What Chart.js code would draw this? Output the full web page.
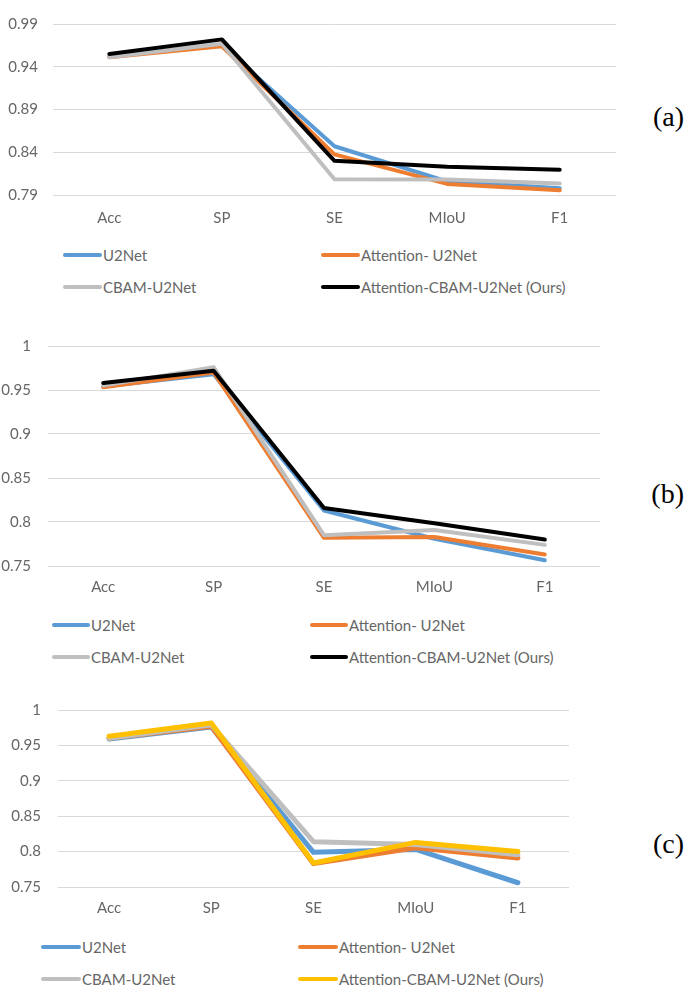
<!DOCTYPE html>
<html>
<head>
<meta charset="utf-8">
<script src="https://cdn.jsdelivr.net/npm/chart.js@4.4.1/dist/chart.umd.min.js"></script>
<style>
  html, body { margin: 0; padding: 0; background: #fff; }
  #page { position: relative; width: 685px; height: 988px; overflow: hidden; }
  canvas { position: absolute; left: 0; }
  .legend-item { position: absolute; display: flex; align-items: center; font-family: Lato, "Open Sans", sans-serif; font-size: 15px; color: #666; white-space: nowrap; }
  .legend-item span.swatch { display: inline-block; height: 4px; border-radius: 2px; margin-right: 1px; }
  .tag { position: absolute; right: 1px; font-family: "Liberation Serif", "DejaVu Serif", serif; font-size: 28px; color: #000; line-height: 1; }
</style>
</head>
<body>
<div id="page">
  <canvas id="chartA" width="640" height="240"></canvas>
  <canvas id="chartB" width="640" height="290"></canvas>
  <canvas id="chartC" width="640" height="250"></canvas>
</div>
<script>
// categories and series names
const categories = ['Acc', 'SP', 'SE', 'MIoU', 'F1'];
const seriesNames = ['U2Net', 'Attention- U2Net', 'CBAM-U2Net', 'Attention-CBAM-U2Net (Ours)'];

// (a)
const a_u2net = [0.952, 0.965, 0.847, 0.806, 0.798];
const a_attention = [0.951, 0.964, 0.8375, 0.803, 0.7955];
const a_cbam = [0.951, 0.967, 0.8085, 0.808, 0.8035];
const a_ours = [0.955, 0.972, 0.830, 0.823, 0.8195];
const a_ticks = [0.79, 0.84, 0.89, 0.94, 0.99];

// (b)
const b_u2net = [0.954, 0.968, 0.813, 0.781, 0.7565];
const b_attention = [0.953, 0.970, 0.782, 0.783, 0.763];
const b_cbam = [0.955, 0.976, 0.785, 0.791, 0.774];
const b_ours = [0.958, 0.972, 0.816, 0.7985, 0.780];
const b_ticks = [0.75, 0.8, 0.85, 0.9, 0.95, 1];

// (c)
const c_u2net = [0.959, 0.976, 0.799, 0.803, 0.756];
const c_attention = [0.960, 0.977, 0.783, 0.8055, 0.791];
const c_cbam = [0.960, 0.979, 0.814, 0.810, 0.7955];
const c_ours = [0.963, 0.9815, 0.784, 0.813, 0.800];
const c_ticks = [0.75, 0.8, 0.85, 0.9, 0.95, 1];

const colorsBlack = ['#5B9BD5', '#ED7D31', '#BFBFBF', '#000000'];
const colorsGold = ['#5B9BD5', '#ED7D31', '#BFBFBF', '#FFC000'];

// layout of each panel (page pixels)
const panels = [
  { id: 'chartA', tag: '(a)', tagY: 118, top: 0, height: 240, area: { left: 53, right: 616, top: 8, bottom: 195 },
    series: [a_u2net, a_attention, a_cbam, a_ours], colors: colorsBlack, ticks: a_ticks, fmt: v => v.toFixed(2),
    yPad: 15, xPad: 14, lw: 4, legend: { rows: [255, 287], cols: [63, 321], sw: 39 } },
  { id: 'chartB', tag: '(b)', tagY: 495, top: 320, height: 290, area: { left: 48, right: 600, top: 335, bottom: 566 },
    series: [b_u2net, b_attention, b_cbam, b_ours], colors: colorsBlack, ticks: b_ticks, fmt: v => String(v),
    yPad: 17, xPad: 12, lw: 4, legend: { rows: [625, 657], cols: [52, 310], sw: 38 } },
  { id: 'chartC', tag: '(c)', tagY: 845, top: 684, height: 250, area: { left: 58, right: 569, top: 699, bottom: 887 },
    series: [c_u2net, c_attention, c_cbam, c_ours], colors: colorsGold, ticks: c_ticks, fmt: v => String(v),
    yPad: 17, xPad: 12, lw: 5, legend: { rows: [947, 979], cols: [41, 298], sw: 40 } }
];

const page = document.getElementById('page');

panels.forEach(p => {
  const canvas = document.getElementById(p.id);
  canvas.style.top = p.top + 'px';
  canvas.style.width = canvas.width + 'px';
  canvas.style.height = p.height + 'px';

  new Chart(canvas.getContext('2d'), {
    type: 'line',
    data: {
      labels: categories,
      datasets: seriesNames.map((name, i) => ({
        label: name,
        data: p.series[i],
        borderColor: p.colors[i],
        backgroundColor: p.colors[i],
        borderWidth: p.lw,
        borderCapStyle: 'round',
        borderJoinStyle: 'round',
        pointRadius: 0,
        tension: 0,
        fill: false,
        order: seriesNames.length - i
      }))
    },
    options: {
      responsive: false,
      animation: false,
      layout: { padding: { left: 0, right: canvas.width - p.area.right, top: p.area.top - p.top, bottom: 0 } },
      plugins: { legend: { display: false }, tooltip: { enabled: false } },
      scales: {
        x: {
          offset: true,
          grid: { display: false, drawTicks: false },
          border: { display: false },
          ticks: { color: '#666', font: { family: 'Lato', size: 15 }, padding: p.xPad, maxRotation: 0 },
          afterFit: s => { s.height = p.top + p.height - p.area.bottom; }
        },
        y: {
          min: p.ticks[0],
          max: p.ticks[p.ticks.length - 1],
          grid: { color: '#D9D9D9', lineWidth: 1, drawTicks: false },
          border: { display: false },
          ticks: { color: '#666', font: { family: 'Lato', size: 15 }, padding: p.yPad, callback: v => p.fmt(v) },
          afterBuildTicks: s => { s.ticks = p.ticks.map(v => ({ value: v })); },
          afterFit: s => { s.width = p.area.left; }
        }
      }
    }
  });

  // legend in two columns
  seriesNames.forEach((name, i) => {
    const item = document.createElement('div');
    item.className = 'legend-item';
    const row = Math.floor(i / 2), col = i % 2;
    item.style.left = p.legend.cols[col] + 'px';
    item.style.top = (p.legend.rows[row] - 10) + 'px';
    item.style.height = '20px';
    const sw = document.createElement('span');
    sw.className = 'swatch';
    sw.style.width = p.legend.sw + 'px';
    sw.style.background = p.colors[i];
    item.appendChild(sw);
    item.appendChild(document.createTextNode(name));
    page.appendChild(item);
  });

  const tag = document.createElement('div');
  tag.className = 'tag';
  tag.textContent = p.tag;
  tag.style.top = (p.tagY - 15) + 'px';
  page.appendChild(tag);
});
</script>
</body>
</html>
